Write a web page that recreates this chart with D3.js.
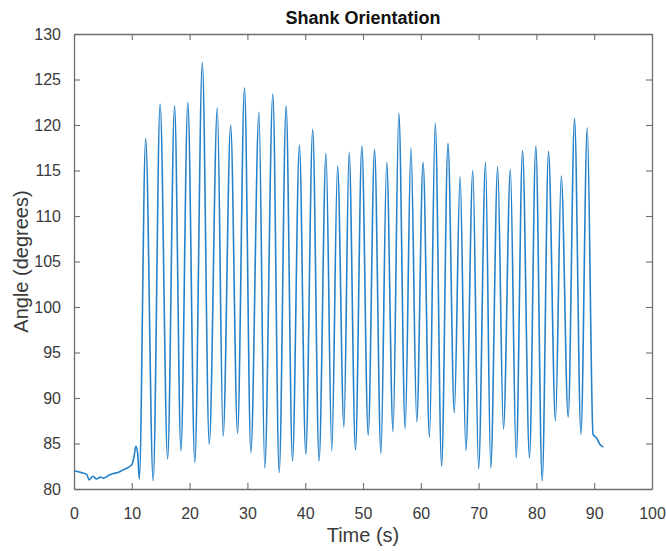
<!DOCTYPE html>
<html>
<head>
<meta charset="utf-8">
<script src="https://cdn.jsdelivr.net/npm/d3@7"></script>
<style>
  html, body { margin: 0; padding: 0; background: #fff; }
  svg { display: block; }
  text { font-family: "Liberation Sans", Arial, Helvetica, sans-serif; }
</style>
</head>
<body>
<svg id="chart" width="666" height="551"></svg>
<script>
// ---- data ----
const title = "Shank Orientation";
const xLabel = "Time (s)";
const yLabel = "Angle (degrees)";
const xTicks = [0, 10, 20, 30, 40, 50, 60, 70, 80, 90, 100];
const yTicks = [80, 85, 90, 95, 100, 105, 110, 115, 120, 125, 130];

const time = [
  0, 1.3, 2.2, 2.6, 3.3, 3.9, 4.5, 5.1, 6.0, 6.8, 7.6, 8.5, 9.2, 9.7, 10.1, 10.4, 10.7, 11.0, 11.3,
  12.4, 13.7, 14.9, 16.2, 17.4, 18.5, 19.7, 20.9, 22.2, 23.4, 24.8, 25.8, 27.1, 28.3, 29.5, 30.6,
  32.0, 33.0, 34.4, 35.5, 36.7, 37.8, 39.0, 40.1, 41.3, 42.4, 43.6, 44.6, 45.6, 46.7, 47.6, 48.7,
  49.8, 50.9, 52.0, 53.1, 54.1, 55.2, 56.2, 57.3, 58.3, 59.3, 60.4, 61.5, 62.5, 63.6, 64.7, 65.8,
  66.8, 67.8, 69.0, 70.0, 71.2, 72.1, 73.3, 74.3, 75.5, 76.5, 77.6, 78.8, 79.9, 81.0, 82.1, 83.3,
  84.3, 85.5, 86.6, 87.7, 88.8, 89.8, 90.4, 91.0, 91.6
];
const angle = [
  82.0, 81.8, 81.6, 81.0, 81.4, 81.1, 81.3, 81.2, 81.5, 81.7, 81.8, 82.1, 82.3, 82.5, 82.8, 83.6, 84.7, 84.0, 81.1,
  118.5, 80.9, 122.3, 83.3, 122.1, 84.2, 122.5, 82.9, 126.9, 84.9, 121.9, 85.8, 120.0, 86.1, 124.1, 84.0,
  121.4, 82.3, 123.4, 81.8, 122.1, 83.1, 117.8, 83.8, 119.5, 83.1, 116.9, 84.2, 115.5, 86.8, 117.0, 84.3,
  117.7, 85.9, 117.3, 83.9, 115.9, 86.3, 121.3, 86.6, 117.5, 87.4, 115.9, 85.7, 120.2, 82.5, 118.0, 88.4,
  114.3, 84.2, 115.0, 82.2, 115.9, 82.3, 115.4, 86.6, 115.1, 83.4, 117.2, 83.4, 117.7, 80.9, 117.1, 87.5,
  114.4, 87.9, 120.7, 86.0, 119.7, 86.0, 85.6, 84.9, 84.6
];

// ---- layout ----
const svg = d3.select("#chart");
const L = 74, R = 652, T = 34, B = 489;
const x = d3.scaleLinear().domain([0, 100]).range([L, R]);
const y = d3.scaleLinear().domain([80, 130]).range([B, T]);
const axisColor = "#6f6f6f";
const textColor = "#3a3a3a";
const tickLen = 6;

// data line
const pts = time.map((t, i) => [t, angle[i]]);
const line = d3.line().x(d => x(d[0])).y(d => y(d[1])).curve(d3.curveMonotoneX);
svg.append("path")
  .datum(pts)
  .attr("fill", "none")
  .attr("stroke", "#2581c9")
  .attr("stroke-width", 1.6)
  .attr("stroke-linejoin", "round")
  .attr("d", line);

// axes
function styleAxis(g) {
  g.select(".domain").attr("stroke", axisColor).attr("stroke-width", 1.3);
  g.selectAll(".tick line").attr("stroke", axisColor).attr("stroke-width", 1.1);
  g.selectAll(".tick text").attr("fill", textColor).attr("font-size", 16);
}
const gx = svg.append("g").attr("transform", `translate(0,${B})`)
  .call(d3.axisBottom(x).tickValues(xTicks).tickSize(-tickLen).tickPadding(tickLen + 13).tickSizeOuter(0));
styleAxis(gx);
const gxt = svg.append("g").attr("transform", `translate(0,${T})`)
  .call(d3.axisTop(x).tickValues(xTicks).tickSize(-tickLen).tickFormat("").tickSizeOuter(0));
styleAxis(gxt);
const gy = svg.append("g").attr("transform", `translate(${L},0)`)
  .call(d3.axisLeft(y).tickValues(yTicks).tickSize(-tickLen).tickPadding(tickLen + 7).tickSizeOuter(0));
styleAxis(gy);
const gyr = svg.append("g").attr("transform", `translate(${R},0)`)
  .call(d3.axisRight(y).tickValues(yTicks).tickSize(-tickLen).tickFormat("").tickSizeOuter(0));
styleAxis(gyr);

// labels
svg.append("text")
  .attr("x", (L + R) / 2).attr("y", 24)
  .attr("text-anchor", "middle")
  .attr("font-size", 18).attr("font-weight", "bold").attr("fill", "#111")
  .text(title);
svg.append("text")
  .attr("x", (L + R) / 2).attr("y", 542)
  .attr("text-anchor", "middle")
  .attr("font-size", 20).attr("fill", textColor)
  .text(xLabel);
svg.append("text")
  .attr("transform", `translate(28,${(T + B) / 2}) rotate(-90)`)
  .attr("text-anchor", "middle")
  .attr("font-size", 20).attr("fill", textColor)
  .text(yLabel);
</script>
</body>
</html>
